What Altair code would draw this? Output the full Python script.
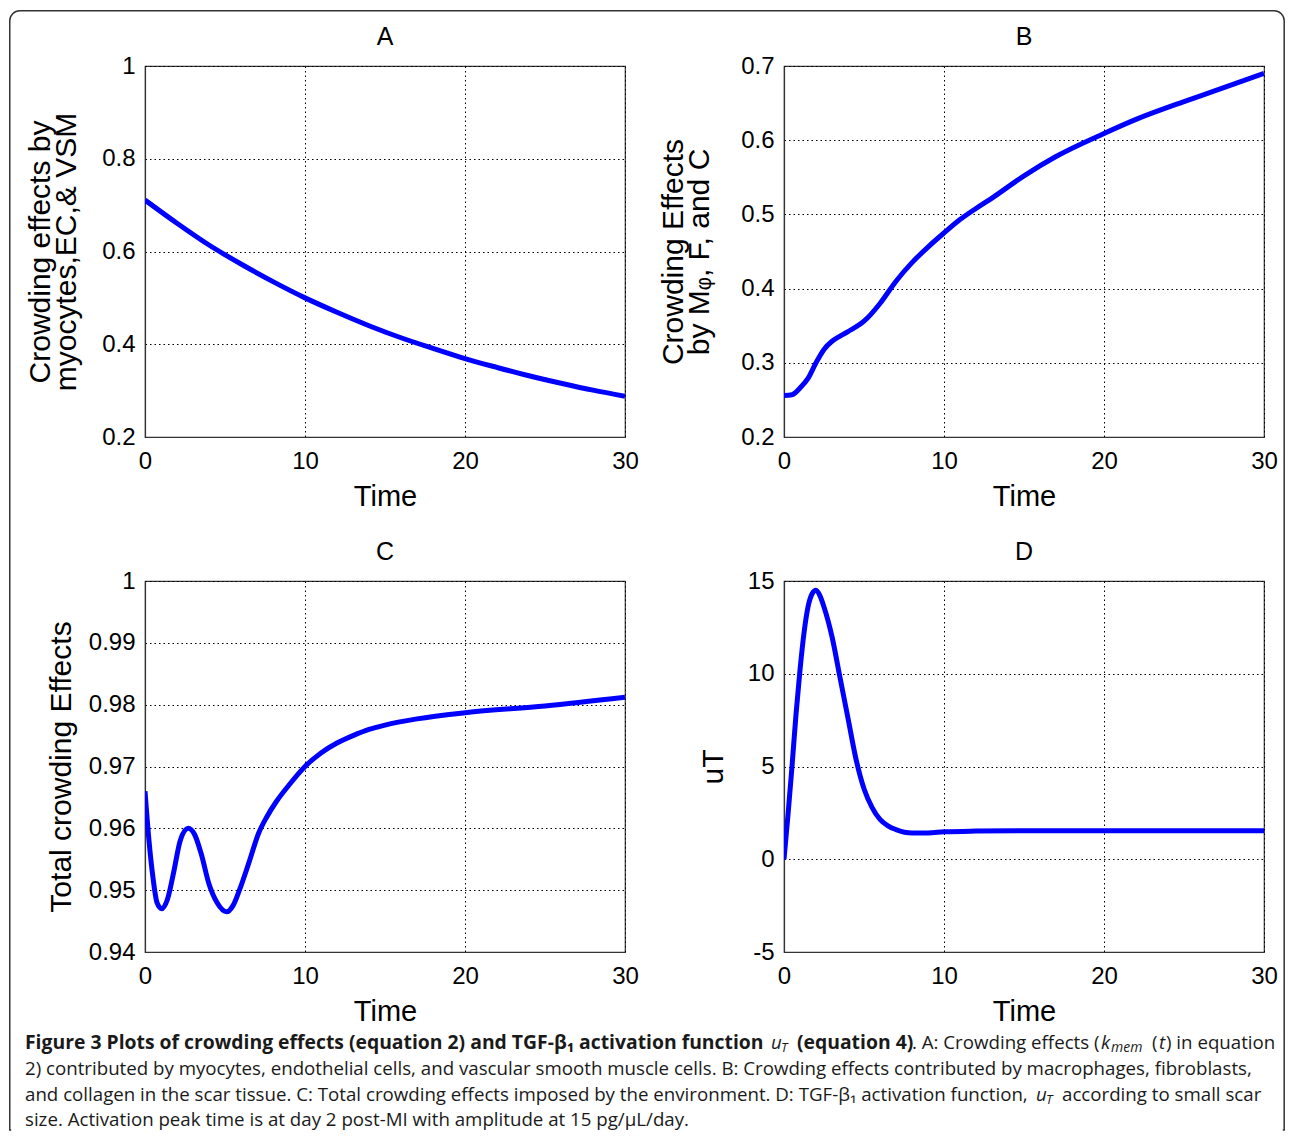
import altair as alt
import pandas as pd

# ---------------- data ----------------
a_time = [0, 2, 4, 6, 8, 10, 12, 14, 16, 18, 20, 22, 24, 26, 28, 30]
a_vals = [0.711, 0.661, 0.614, 0.573, 0.535, 0.500, 0.469, 0.440, 0.414, 0.391,
          0.369, 0.350, 0.332, 0.316, 0.301, 0.288]

b_time = [0, 0.5, 1, 1.5, 2, 2.5, 3, 3.5, 4, 5, 6, 7, 8, 9, 10, 11, 12, 13, 15,
          17, 20, 22, 25, 27, 30]
b_vals = [0.256, 0.257, 0.266, 0.279, 0.300, 0.318, 0.329, 0.336, 0.342, 0.356,
          0.380, 0.410, 0.435, 0.456, 0.475, 0.493, 0.508, 0.522, 0.552, 0.578,
          0.609, 0.628, 0.652, 0.667, 0.690]

c_time = [0, 0.25, 0.5, 0.75, 1.05, 1.4, 1.8, 2.2, 2.7, 3.1, 3.5, 4, 4.5, 5.1,
          5.5, 5.9, 6.5, 7.1, 7.6, 8.2, 9, 10, 11, 12, 13, 14, 15, 17, 20, 25, 30]
c_vals = [0.966, 0.958, 0.952, 0.948, 0.947, 0.9485, 0.953, 0.958, 0.960, 0.959,
          0.956, 0.951, 0.948, 0.9465, 0.9475, 0.950, 0.9545, 0.9592, 0.9618,
          0.9643, 0.967, 0.970, 0.9722, 0.9738, 0.975, 0.976, 0.9767, 0.9777,
          0.9787, 0.9798, 0.9812]

d_time = [0, 0.25, 0.5, 0.75, 1, 1.25, 1.5, 1.75, 2, 2.25, 2.5, 3, 3.5, 4, 4.5,
          5, 5.5, 6, 6.5, 7, 8, 9, 10, 12, 15, 20, 25, 30]
d_vals = [0, 2.4, 5.0, 7.8, 10.2, 12.2, 13.6, 14.3, 14.5, 14.2, 13.6, 12.0, 9.8,
          7.6, 5.4, 3.8, 2.8, 2.15, 1.8, 1.6, 1.42, 1.42, 1.48, 1.52, 1.54, 1.54,
          1.54, 1.54]

x_ticks = [0, 10, 20, 30]
a_ticks = [0.2, 0.4, 0.6, 0.8, 1]
b_ticks = [0.2, 0.3, 0.4, 0.5, 0.6, 0.7]
c_ticks = [0.94, 0.95, 0.96, 0.97, 0.98, 0.99, 1]
d_ticks = [-5, 0, 5, 10, 15]

panel_letters = ["A", "B", "C", "D"]

FONT = "Liberation Sans"
CAP_FONT = "Open Sans"
W, H = 480, 371
ONE = alt.Data(values=[{}])


def panel(t, v, letter, ydom, yticks, ytitle, title_x):
    df = pd.DataFrame({"t": t, "v": v})
    line = (
        alt.Chart(df)
        .mark_line(color="#0000FF", strokeWidth=5, clip=True, interpolate="monotone")
        .encode(
            x=alt.X(
                "t:Q",
                scale=alt.Scale(domain=[0, 30], nice=False, zero=False),
                axis=alt.Axis(
                    values=x_ticks, title="Time", labelExpr="'' + datum.value",
                    labelBaseline="alphabetic", labelPadding=31,
                    titleBaseline="alphabetic", titleY=68, titleX=W / 2,
                    titleAlign="center",
                ),
            ),
            y=alt.Y(
                "v:Q",
                scale=alt.Scale(domain=ydom, nice=False, zero=False),
                axis=alt.Axis(
                    values=yticks, title=ytitle, labelExpr="'' + datum.value",
                    labelPadding=10, titleBaseline="alphabetic",
                    titleAngle=270, titleAlign="center", titleX=title_x,
                    titleY=H / 2, titleLineHeight=26,
                ),
            ),
        )
    )
    head = alt.Chart(ONE).mark_text(
        text=letter, font=FONT, fontSize=25, align="center",
        baseline="alphabetic", color="#000",
    ).encode(x=alt.value(W / 2), y=alt.value(-21))
    return alt.layer(line, head).properties(width=W, height=H)


pa = panel(a_time, a_vals, panel_letters[0], [0.2, 1], a_ticks,
           ["Crowding effects by", "myocytes,EC,& VSM"], -96)
pb = panel(b_time, b_vals, panel_letters[1], [0.2, 0.7], b_ticks,
           ["Crowding Effects", "by M\u1d69, F, and C"], -102)
pc = panel(c_time, c_vals, panel_letters[2], [0.94, 1], c_ticks,
           "Total crowding Effects", -75)
pd_ = panel(d_time, d_vals, panel_letters[3], [-5, 15], d_ticks, "uT", -62)

# ---------------- caption (relative to caption-cell origin) ----------------
OX, OY = 145, 1096  # page position of the caption cell origin
cap_base = [1049, 1075, 1101, 1126]
NORMAL = 18.7
BOLD = 19.35

def txt(s, px, py, weight="normal", style="normal", size=NORMAL):
    return alt.Chart(ONE).mark_text(
        text=s, font=CAP_FONT, fontSize=size, fontWeight=weight,
        fontStyle=style, align="left", baseline="alphabetic", color="#1a1a1a",
    ).encode(x=alt.value(px - OX), y=alt.value(py - OY))

cap_layers = [
    txt("Figure 3 Plots of crowding effects (equation 2) and TGF-\u03b2\u2081 activation function",
        25, cap_base[0], weight="bold", size=BOLD),
    txt("u", 771, cap_base[0], style="italic"),
    txt("T", 781, cap_base[0] + 3, style="italic", size=13),
    txt("(equation 4)", 797, cap_base[0], weight="bold", size=BOLD),
    txt(". A: Crowding effects (", 912, cap_base[0]),
    txt("k", 1101, cap_base[0], style="italic"),
    txt("mem", 1111, cap_base[0] + 3, style="italic", size=14),
    txt("(", 1152, cap_base[0]),
    txt("t", 1159, cap_base[0], style="italic"),
    txt(") in equation", 1166, cap_base[0]),
    txt("2) contributed by myocytes, endothelial cells, and vascular smooth muscle cells. "
        "B: Crowding effects contributed by macrophages, fibroblasts,", 25, cap_base[1]),
    txt("and collagen in the scar tissue. C: Total crowding effects imposed by the "
        "environment. D: TGF-\u03b2\u2081 activation function,", 25, cap_base[2]),
    txt("u", 1036, cap_base[2], style="italic"),
    txt("T", 1046, cap_base[2] + 3, style="italic", size=13),
    txt("according to small scar", 1062, cap_base[2]),
    txt("size. Activation peak time is at day 2 post-MI with amplitude at 15 pg/\u03bcL/day.",
        25, cap_base[3]),
]

FRAME_L, FRAME_R, FRAME_T, FRAME_B = 9.75, 1284.2, 10.75, 1130
frame = alt.Chart(ONE).mark_rect(
    filled=False, stroke="#333333", strokeWidth=1.5,
    cornerRadiusTopLeft=10, cornerRadiusTopRight=10,
).encode(
    x=alt.value(FRAME_L - OX), x2=alt.value(FRAME_R - OX),
    y=alt.value(FRAME_T - OY), y2=alt.value(FRAME_B - OY),
)
frame_cut = alt.Chart(ONE).mark_rule(
    color="white", strokeWidth=3,
).encode(
    x=alt.value(FRAME_L + 1.4 - OX), x2=alt.value(FRAME_R - 1.4 - OX),
    y=alt.value(FRAME_B - OY),
)

caption = alt.layer(frame, frame_cut, *cap_layers).properties(
    width=W, height=1, view=alt.ViewBackground(strokeOpacity=0)
)

chart = (
    alt.concat(pa, pb, pc, pd_, caption, columns=2,
               spacing={"row": 144, "column": 159}, bounds="flush")
    .properties(padding={"left": 1, "top": 2, "right": 0, "bottom": 0})
    .configure(background="white")
    .configure_view(stroke="#333333", strokeWidth=1.2)
    .configure_axis(
        labelFont=FONT, labelFontSize=24, labelColor="#000",
        titleFont=FONT, titleFontSize=29, titleColor="#000", titleFontWeight="normal",
        grid=True, gridColor="#000", gridDash=[1.5, 3], gridWidth=1, gridOpacity=1,
        ticks=False, tickSize=0, domain=True, domainColor="#333333", domainWidth=1.2,
        labelOverlap=False, labelFlush=False,
    )
    .configure_axisY(titleFontSize=30)
)

chart.save("out.html", embed_options={"renderer": "svg", "actions": False})
